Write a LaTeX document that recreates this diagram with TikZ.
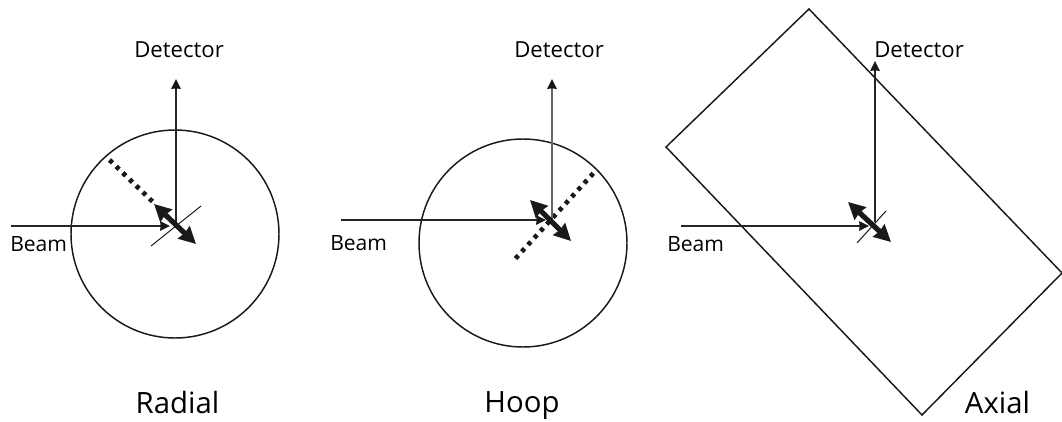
\documentclass[tikz,border=0pt]{standalone}
\usepackage{fontspec}
\setmainfont{Open Sans}
\usetikzlibrary{arrows.meta}
\tikzset{
  x=0.75pt,y=-0.75pt,
  outline/.style={draw=black!90,line width=1.1pt},
  ray/.style={draw=black!85,line width=0.95pt,-{Stealth[length=7.4pt,width=7.2pt,inset=0.4pt,color=black!90]}},
  tick/.style={draw=black!90,line width=0.75pt},
  strain/.style={draw=black!90,line width=3.9pt,preaction={draw=black!90,-,shorten >=6pt,shorten <=6pt},{Stealth[length=12.5pt,width=12.5pt,inset=0.8pt]}-{Stealth[length=12.5pt,width=12.5pt,inset=0.8pt]}},
  grain/.style={draw=black!90,line width=3.5pt,dash pattern=on 3.1pt off 3.85pt},
  small/.style={font=\fontsize{16.6}{18}\selectfont,inner sep=0pt,anchor=base west},
  beamlabel/.style={font=\fontsize{15.8}{18}\selectfont,inner sep=0pt,anchor=base west},
  big/.style={font=\fontsize{22}{24}\selectfont,inner sep=0pt,anchor=base}
}
\begin{document}
\begin{tikzpicture}
\useasboundingbox (0,0) rectangle (1062,421);
% Radial
\node[circle,outline,minimum size=156pt,inner sep=0pt] (c1) at (175,234) {};
\coordinate (ab1) at (11,226);\coordinate (at1) at (170,226);
\coordinate (db1) at (176,226);\coordinate (dt1) at (176,79);
\coordinate (ta1) at (151,246);\coordinate (tb1) at (201,206);
\coordinate (sa1) at (154,204);\coordinate (sb1) at (196,244);
\coordinate (ga1) at (109.5,160);\coordinate (gb1) at (153,202);
\draw[grain] (ga1) -- (gb1);
\draw[tick] (ta1) -- (tb1);
\draw[ray] (ab1) -- (at1);
\draw[ray] (db1) -- (dt1);
\draw[strain] (sa1) -- (sb1);
\node[small] (d1) at (134,57) {Detector};
\node[beamlabel] (b1) at (10,251) {Beam};
\node[big] (r1) at (177.5,413) {Radial};
% Hoop
\node[circle,outline,minimum size=156pt,inner sep=0pt] (c2) at (523,243) {};
\coordinate (ab2) at (341,220);\coordinate (at2) at (546,220);
\coordinate (db2) at (552,220);\coordinate (dt2) at (552,79);
\coordinate (sa2) at (530,200);\coordinate (sb2) at (571,241);
\coordinate (ga2) at (515.5,258.5);\coordinate (gb2) at (594,172.5);
\draw[grain] (ga2) -- (gb2);
\draw[ray] (ab2) -- (at2);
\draw[ray,draw=black!60] (db2) -- (dt2);
\draw[strain] (sa2) -- (sb2);
\node[small] (d2) at (514,57) {Detector};
\node[beamlabel] (b2) at (330,250) {Beam};
\node[big] (r2) at (522,412) {Hoop};
% Axial
\coordinate (p1) at (809,9);\coordinate (p2) at (666,147);
\coordinate (p3) at (922,415);\coordinate (p4) at (1062,273);
\draw[outline] (p1) -- (p2) -- (p3) -- (p4) -- cycle;
\coordinate (ab3) at (681,226);\coordinate (at3) at (869,226);
\coordinate (db3) at (875,222);\coordinate (dt3) at (875,61);
\coordinate (ta3) at (857,243);\coordinate (tb3) at (886,211);
\coordinate (sa3) at (848,202);\coordinate (sb3) at (891,242);
\draw[tick] (ta3) -- (tb3);
\draw[ray] (ab3) -- (at3);
\draw[ray] (db3) -- (dt3);
\draw[strain] (sa3) -- (sb3);
\node[small] (d3) at (874,57) {Detector};
\node[beamlabel] (b3) at (667,251) {Beam};
\node[big] (r3) at (997.5,413) {Axial};
\end{tikzpicture}
\end{document}
